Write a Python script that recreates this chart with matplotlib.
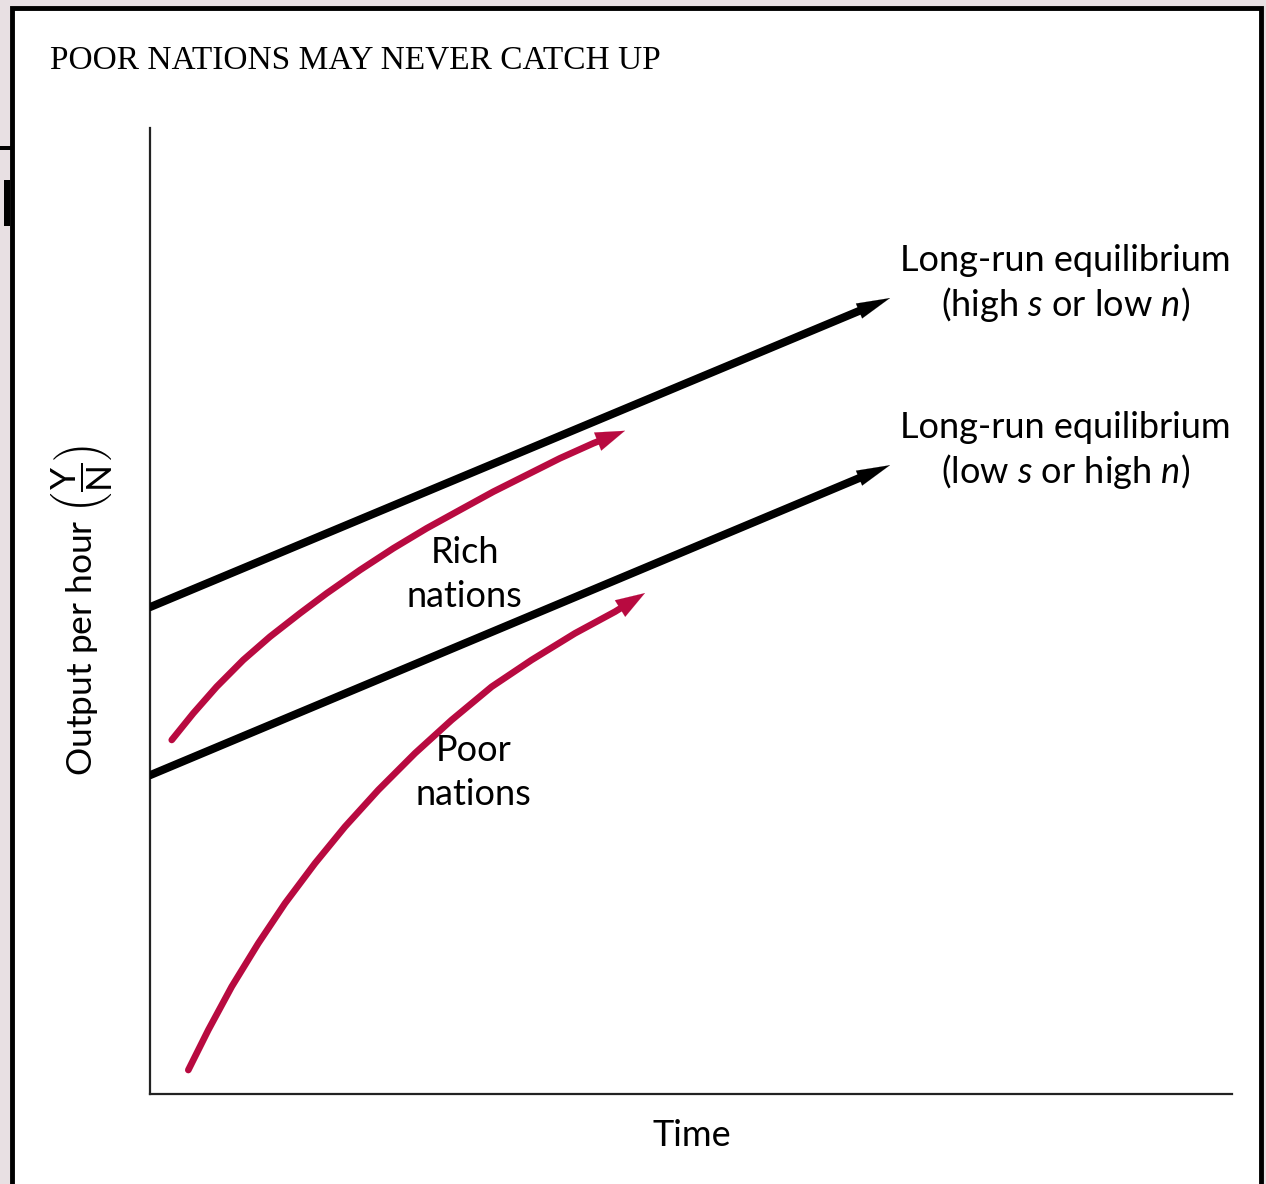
import matplotlib
matplotlib.use('Agg')
import matplotlib.pyplot as plt
from matplotlib.patches import Rectangle

# data (arbitrary units: time 0-100, output 0-100)
high_eq_x = [0.0, 68.4]
high_eq_y = [50.4, 82.4]
low_eq_x = [0.0, 68.4]
low_eq_y = [33.0, 65.1]

rich_x = [2.01, 4.00, 6.16, 8.62, 11.09, 13.86, 16.33, 19.41, 22.49, 25.57,
          28.65, 31.73, 34.81, 37.89, 40.97, 43.90]
rich_y = [36.65, 39.41, 42.16, 44.93, 47.34, 49.76, 51.83, 54.24, 56.49, 58.56,
          60.46, 62.35, 64.08, 65.81, 67.36, 68.66]

poor_x = [3.54, 5.39, 7.55, 10.01, 12.48, 15.25, 18.02, 21.10, 24.49, 27.88,
          31.58, 35.27, 39.28, 42.98, 45.75]
poor_y = [2.48, 6.63, 11.11, 15.60, 19.74, 23.88, 27.67, 31.47, 35.27, 38.72,
          42.16, 44.93, 47.69, 49.93, 51.86]

RED = '#b80a40'
SANS = 'Lato'

plt.rcParams['mathtext.fontset'] = 'custom'
plt.rcParams['mathtext.rm'] = SANS
plt.rcParams['mathtext.it'] = SANS + ':italic'

W, H = 1266, 1184
fig = plt.figure(figsize=(W / 100, H / 100), dpi=100)
fig.patch.set_facecolor('#e8e0e3')

# white panel with black frame
fig.patches.append(Rectangle((12 / W, -0.05), (1249 / W), 1 - 8 / H + 0.05,
                             transform=fig.transFigure, facecolor='white',
                             edgecolor='black', lw=3.5, zorder=-10))
# bits of the slide behind
fig.patches.append(Rectangle((0, 1 - 150 / H), 12 / W, 4 / H, transform=fig.transFigure,
                             facecolor='black', lw=0, zorder=-10))
fig.patches.append(Rectangle((4 / W, 1 - 226 / H), 6 / W, 46 / H, transform=fig.transFigure,
                             facecolor='black', lw=0, zorder=-10))

ax = fig.add_axes([150 / W, 90 / H, 1082 / W, 966 / H])
ax.set_facecolor('none')
ax.set_xlim(0, 100)
ax.set_ylim(0, 100)
for s in ['top', 'right']:
    ax.spines[s].set_visible(False)
for s in ['left', 'bottom']:
    ax.spines[s].set_linewidth(1.6)
    ax.spines[s].set_color('#222222')
ax.set_xticks([])
ax.set_yticks([])


def arrow_line(x, y, color, lw, hl, hw, back):
    # line stops a little before the tip, head drawn with annotate
    dx = x[-1] - x[-2]
    dy = y[-1] - y[-2]
    d = (dx ** 2 + dy ** 2) ** 0.5
    bx = x[-1] - dx / d * back
    by = y[-1] - dy / d * back
    ax.plot(list(x[:-1]) + [bx], list(y[:-1]) + [by], color=color, lw=lw,
            solid_capstyle='round', solid_joinstyle='round', zorder=3)
    ax.annotate('', xy=(x[-1], y[-1]), xytext=(bx - dx / d * 0.5, by - dy / d * 0.5),
                arrowprops=dict(arrowstyle='-|>,head_length=%g,head_width=%g' % (hl, hw),
                                color=color, lw=0.1, shrinkA=0, shrinkB=0),
                zorder=4)


arrow_line(high_eq_x, high_eq_y, 'black', 5.8, 2.4, 0.58, 2.0)
arrow_line(low_eq_x, low_eq_y, 'black', 5.8, 2.4, 0.58, 2.0)
arrow_line(rich_x, rich_y, RED, 4.8, 2.1, 0.7, 1.4)
arrow_line(poor_x, poor_y, RED, 4.8, 2.1, 0.7, 1.4)

fs = 26
ax.text(84.6, 86.3, 'Long-run equilibrium', ha='center', va='center', fontsize=fs, family=SANS)
ax.text(84.6, 81.7, r'(high $\mathit{s}$ or low $\mathit{n}$)', ha='center', va='center', fontsize=fs, family=SANS)
ax.text(84.6, 69.0, 'Long-run equilibrium', ha='center', va='center', fontsize=fs, family=SANS)
ax.text(84.6, 64.4, r'(low $\mathit{s}$ or high $\mathit{n}$)', ha='center', va='center', fontsize=fs, family=SANS)

ax.text(29.1, 56.1, 'Rich', ha='center', va='center', fontsize=fs, family=SANS)
ax.text(29.1, 51.5, 'nations', ha='center', va='center', fontsize=fs, family=SANS)
ax.text(29.9, 35.6, 'Poor', ha='center', va='center', fontsize=fs, family=SANS)
ax.text(29.9, 31.0, 'nations', ha='center', va='center', fontsize=fs, family=SANS)

ax.text(50.1, -4.3, 'Time', ha='center', va='center', fontsize=fs, family=SANS, clip_on=False)

fig.text(82 / W, 1 - 610 / H, r'Output per hour $\left(\dfrac{\mathrm{Y}}{\mathrm{N}}\right)$',
         rotation=90, ha='center', va='center', fontsize=25.5, family=SANS)

fig.text(50 / W, 1 - 60 / H, 'POOR NATIONS MAY NEVER CATCH UP', ha='left', va='center',
         fontsize=24, family='Liberation Serif')

fig.savefig('out.png', dpi=100, facecolor=fig.get_facecolor())
